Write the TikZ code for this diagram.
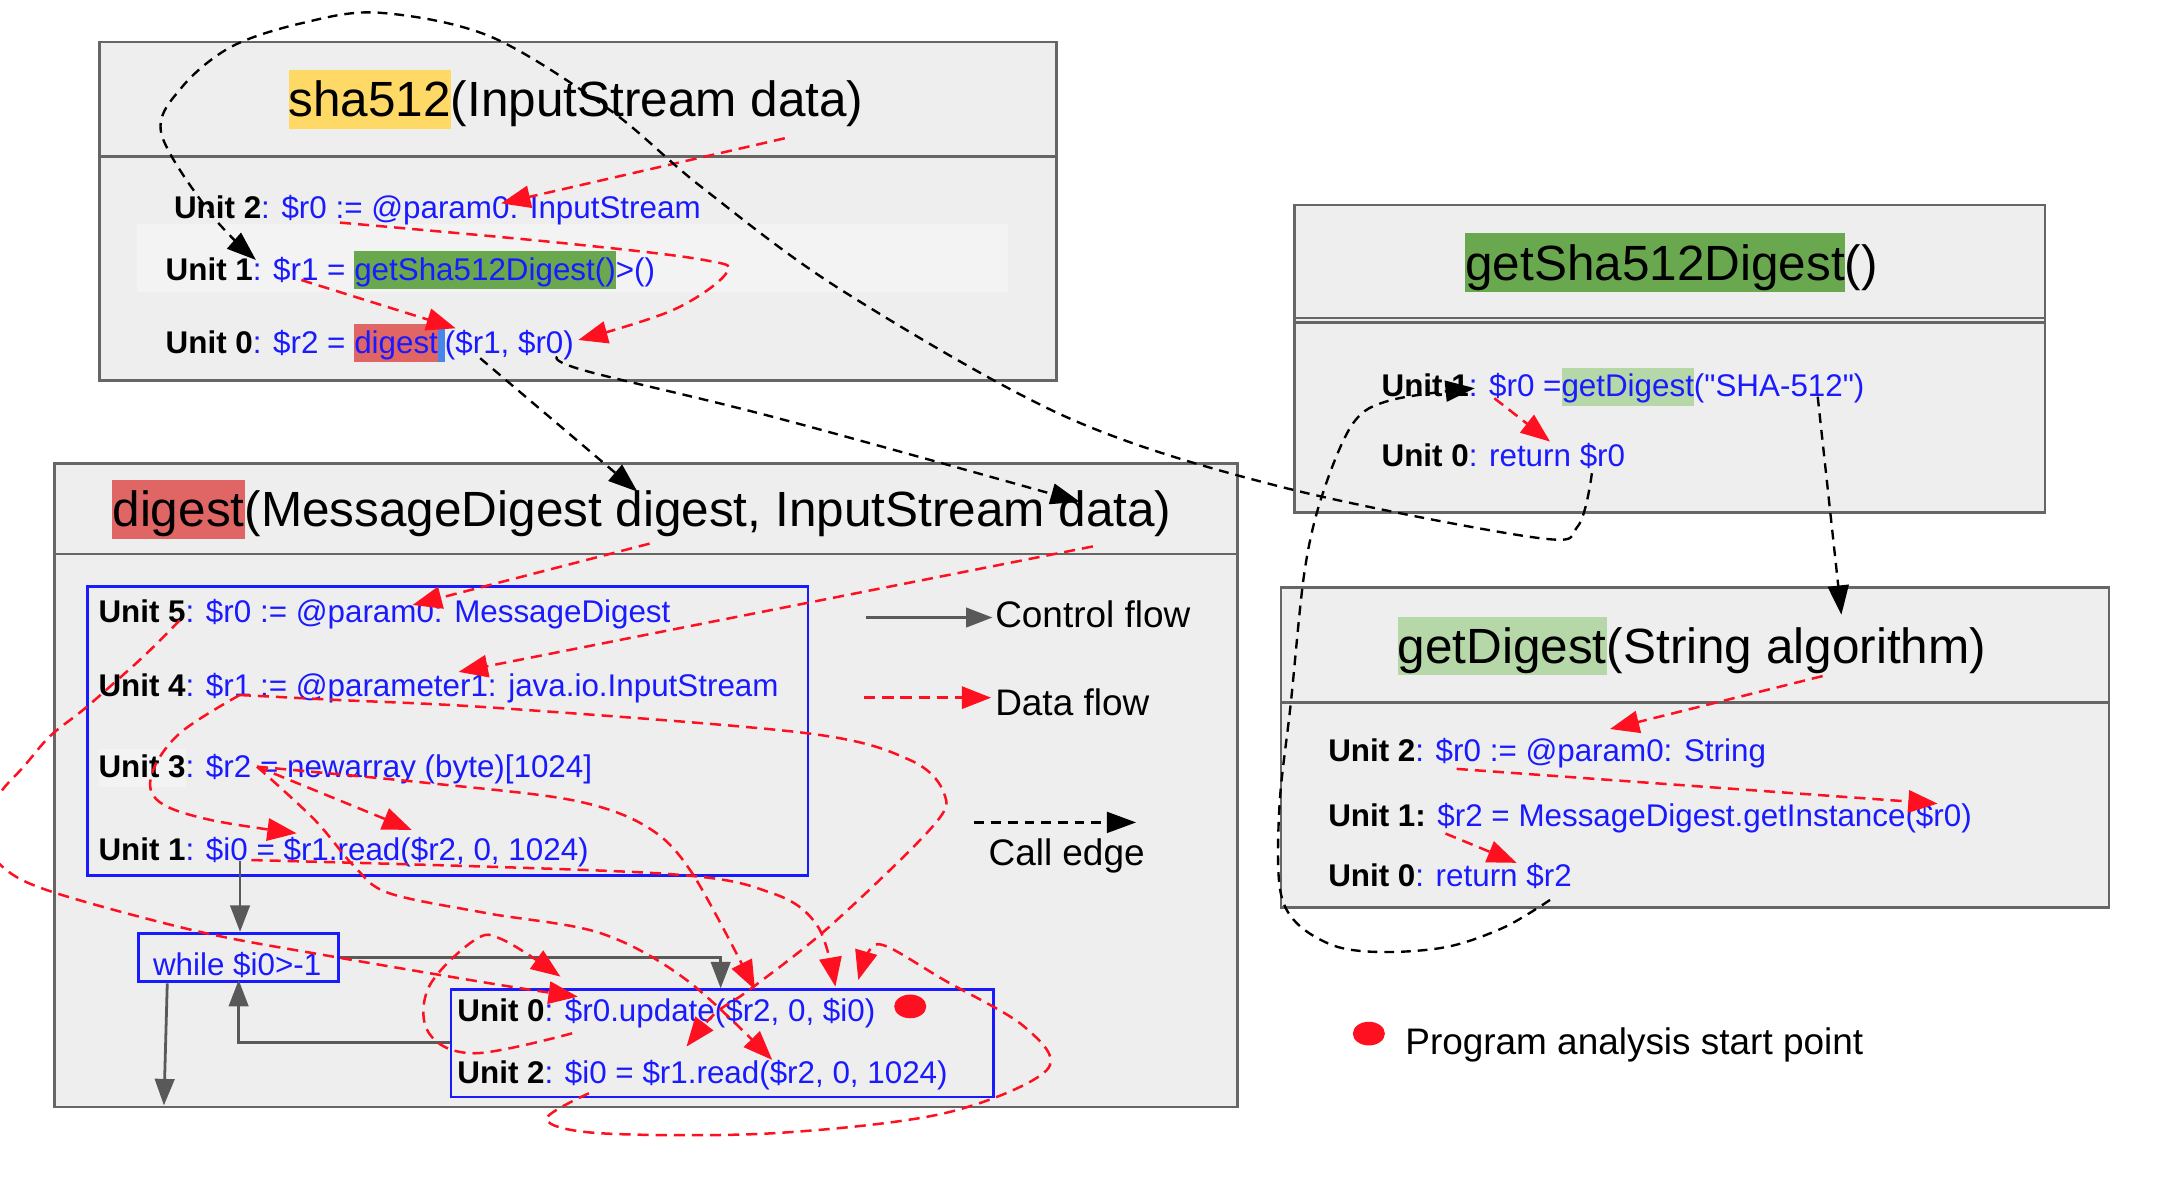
\documentclass[tikz,border=0pt]{standalone}
\usepackage{fontspec}
\setmainfont{Liberation Sans}[Ligatures=TeXOff]
\usetikzlibrary{arrows.meta,shapes.geometric}
\definecolor{boxfill}{HTML}{EEEEEE}
\definecolor{boxline}{HTML}{666666}
\definecolor{codeblue}{HTML}{1A1AFF}
\definecolor{dfred}{HTML}{FF1020}
\definecolor{cfgray}{HTML}{595959}
\definecolor{hlyellow}{HTML}{FFD966}
\definecolor{hlgreen}{HTML}{6AA84F}
\definecolor{hllgreen}{HTML}{B6D7A8}
\definecolor{hlred}{HTML}{E06666}
\definecolor{hlsel}{HTML}{4A86E8}
\definecolor{lightrow}{HTML}{F3F3F3}
\newcommand\codefont{\fontsize{22.5}{27}\selectfont}
\newcommand\titlefont{\fontsize{35.5}{40}\selectfont}
\newcommand\legendfont{\fontsize{26.5}{30}\selectfont}
\newcommand\unitlbl[1]{\textcolor{black}{\bfseries #1}}
\newcommand\hlcode[2]{\begingroup\setlength{\fboxsep}{0pt}\colorbox{#1}{\rule[-6.5pt]{0pt}{27.3pt}#2}\endgroup}
\newcommand\hltitle[2]{\begingroup\setlength{\fboxsep}{0pt}\colorbox{#1}{\rule[-8.5pt]{0pt}{42pt}#2}\endgroup}
\begin{document}
\begin{tikzpicture}[x=1pt,y=-1pt,
  box/.style={draw=boxline, fill=boxfill, line width=2pt, inner sep=0pt, anchor=north west},
  bluebox/.style={draw=codeblue, line width=2pt, inner sep=0pt, anchor=north west},
  divider/.style={draw=boxline, line width=2pt},
  code/.style={anchor=base west, inner sep=0pt, text=codeblue, font=\codefont},
  titletext/.style={anchor=base west, inner sep=0pt, text=black, font=\titlefont},
  legendtext/.style={anchor=base west, inner sep=0pt, text=black, font=\legendfont},
  dflow/.style={draw=dfred, line width=1.8pt, dash pattern=on 8pt off 5pt, -{Triangle[length=21pt,width=16pt]}},
  calledge/.style={draw=black, line width=1.7pt, dash pattern=on 7pt off 5pt, -{Triangle[length=21pt,width=15pt]}},
  cflow/.style={draw=cfgray, line width=2pt, -{Triangle[length=19pt,width=14pt]}},
  dot/.style={ellipse, fill=dfred, minimum width=23pt, minimum height=17pt, inner sep=0pt}
]
\useasboundingbox (0,0) rectangle (1551,845);

% ---------- boxes ----------
\node[box, minimum width=686.6pt, minimum height=242.8pt] (shaBox) at (70.4,29.2) {};
\draw[divider] (70.4,112) -- (757,112);
\fill[lightrow] (98,160.7) rectangle (723,209.5);

\node[box, minimum width=538.4pt, minimum height=220.6pt] (gsBox) at (927.6,146) {};
\draw[divider, line width=1.6pt] (927.6,228.2) -- (1466,228.2);
\draw[divider, line width=1.6pt] (927.6,231.4) -- (1466,231.4);

\node[box, minimum width=594pt, minimum height=229.5pt] (gdBox) at (918,420.5) {};
\draw[divider] (918,504) -- (1512,504);

\node[box, minimum width=848.4pt, minimum height=461.6pt] (dgBox) at (38.3,331.6) {};
\draw[divider] (38.3,397.5) -- (886.7,397.5);

\node[bluebox, minimum width=517.1pt, minimum height=207.5pt] (blockA) at (61.6,419.7) {};
\node[bluebox, minimum width=143.4pt, minimum height=34.5pt] (whileBox) at (98.6,668.5) {};
\node[bluebox, minimum width=389.4pt, minimum height=77pt] (blockB) at (322.6,709) {};

% ---------- texts ----------
\node[titletext] (shaTitle) at (206.8,83.7) {\hltitle{hlyellow}{sha512}(InputStream data)};
\node[code] (shaU2) at (124.7,156.7) {\unitlbl{Unit 2}: \$r0 := @param0: InputStream};
\node[code] (shaU1) at (118.7,200.9) {\unitlbl{Unit 1}: \$r1 = \hlcode{hlgreen}{getSha512Digest()}>()};
\node[code] (shaU0) at (118.7,253.4) {\unitlbl{Unit 0}: \$r2 = \hlcode{hlred}{digest}\hlcode{hlsel}{\hspace{5pt}}(\$r1, \$r0)};

\node[titletext] (gsTitle) at (1051,200.9) {\hltitle{hlgreen}{getSha512Digest}()};
\node[code] (gsU1) at (991,284.5) {\unitlbl{Unit 1}: \$r0 =\hlcode{hllgreen}{getDigest}("SHA-512")};
\node[code] (gsU0) at (991,334.8) {\unitlbl{Unit 0}: return \$r0};

\node[titletext] (gdTitle) at (1002.5,475.8) {\hltitle{hllgreen}{getDigest}(String algorithm)};
\node[code] (gdU2) at (952.7,546.6) {\unitlbl{Unit 2}: \$r0 := @param0: String};
\node[code] (gdU1) at (952.7,593) {\unitlbl{Unit 1:} \$r2 = MessageDigest.getInstance(\$r0)};
\node[code] (gdU0) at (952.7,636) {\unitlbl{Unit 0}: return \$r2};

\node[titletext] (dgTitle) at (80.5,378) {\hltitle{hlred}{digest}(MessageDigest digest, InputStream data)};
\node[code] (dgU5) at (70.5,446.5) {\unitlbl{Unit 5}: \$r0 := @param0: MessageDigest};
\node[code] (dgU4) at (70.5,500) {\unitlbl{Unit 4}: \$r1 := @parameter1: java.io.InputStream};
\node[code] (dgU3) at (70.5,558) {\hlcode{lightrow}{\unitlbl{Unit 3}}: \$r2 = newarray (byte)[1024]};
\node[code] (dgU1) at (70.5,617) {\unitlbl{Unit 1}: \$i0 = \$r1.read(\$r2, 0, 1024)};
\node[code] (whileTxt) at (109.6,700) {while \$i0>-1};
\node[code] (dgU0) at (328,733) {\unitlbl{Unit 0}: \$r0.update(\$r2, 0, \$i0)};
\node[code] (dgU2) at (328,777) {\unitlbl{Unit 2}: \$i0 = \$r1.read(\$r2, 0, 1024)};
\node[dot] (startDot) at (653,722) {};

% ---------- legend ----------
\coordinate (lgCfA) at (621,443);   \coordinate (lgCfB) at (712,443);
\coordinate (lgDfA) at (620,500.5); \coordinate (lgDfB) at (711,500.5);
\coordinate (lgCeA) at (699,590);   \coordinate (lgCeB) at (815,590);
\draw[cflow] (lgCfA) -- (lgCfB);
\draw[dflow] (lgDfA) -- (lgDfB);
\draw[calledge] (lgCeA) -- (lgCeB);
\node[legendtext] (lgCf) at (713.8,450) {Control flow};
\node[legendtext] (lgDf) at (713.8,513.6) {Data flow};
\node[legendtext] (lgCe) at (709,620.6) {Call edge};
\node[dot] (lgDot) at (982,741.5) {};
\node[legendtext] (lgStart) at (1008,756.8) {Program analysis start point};

% ---------- control flow ----------
\coordinate (cfU1) at (172.2,618);
\coordinate (cfWTop) at (172.2,668.5);
\coordinate (cfB0) at (517,709);
\coordinate (cfBack) at (322.6,747.6);
\coordinate (cfWBot) at (171.2,703);
\coordinate (cfExitA) at (120,705.4);
\coordinate (cfExitB) at (117.6,793);
\draw[cflow] (cfU1) -- (cfWTop);
\draw[cflow] (whileBox.east) -| (cfB0);
\draw[cflow] (cfBack) -| (cfWBot);
\draw[cflow] (cfExitA) -- (cfExitB);

% ---------- data flow: sha512 ----------
\coordinate (dA1) at (563,99.2);    \coordinate (dA2) at (359.5,145.9);
\draw[dflow] (dA1) -- (dA2);
\coordinate (dB1) at (243.9,159.7); \coordinate (dB2) at (414.9,243.9);
\draw[dflow] plot[smooth, tension=0.6] coordinates {(dB1) (400,174) (505,186.5) (521,196) (482.8,222.4) (dB2)};
\coordinate (dC1) at (216.2,200.9); \coordinate (dC2) at (326.9,235.5);
\draw[dflow] (dC1) -- (dC2);

% ---------- data flow: getSha512Digest / getDigest ----------
\coordinate (dD1) at (1072,285.7);  \coordinate (dD2) at (1112,316.8);
\draw[dflow] (dD1) -- (dD2);
\coordinate (dE1) at (1307.5,485);  \coordinate (dE2) at (1155,523);
\draw[dflow] (dE1) -- (dE2);
\coordinate (dF1) at (1045,551.6);  \coordinate (dF2) at (1390,576.5);
\draw[dflow] (dF1) -- (dF2);
\coordinate (dG1) at (1037,598);    \coordinate (dG2) at (1088,619);
\draw[dflow] (dG1) -- (dG2);

% ---------- data flow: digest ----------
\coordinate (dH1) at (466,390);     \coordinate (dH2) at (296,434);
\draw[dflow] (dH1) -- (dH2);
\coordinate (dI1) at (784,392);     \coordinate (dI2) at (329,482);
\draw[dflow] (dI1) -- (dI2);
% Unit 5 $r0 -> update
\coordinate (r0u5) at (129,445);    \coordinate (r0upd) at (414.5,715);
\draw[dflow] plot[smooth, tension=0.55] coordinates {(r0u5) (105,469) (84,488) (60,509) (36,528) (17,550) (0,569) (-14,596) (2,622) (38,640) (143,668.4) (239,686.3) (358.7,706.6) (r0upd)};
% Unit 4 $r1 -> Unit 1 read
\coordinate (r1u4) at (172,498.6);  \coordinate (r1u1) at (212.8,597.8);
\draw[dflow] plot[smooth, tension=0.6] coordinates {(r1u4) (129,526) (109,555) (114,575) (150,588) (r1u1)};
% Unit 4 $r1 -> Unit 2 read
\coordinate (r1u2) at (492.5,750.8);
\draw[dflow] plot[smooth, tension=0.55] coordinates {(r1u4) (239,502) (358.7,508) (578.8,526) (652.7,545.2) (677.2,569) (669,593) (595,664.8) (537.7,710) (513,727) (r1u2)};
% Unit 3 $r2 -> Unit 1 read
\coordinate (r2u3) at (184.4,550);  \coordinate (r2u1) at (295.4,595.4);
\draw[dflow] (r2u3) -- (r2u1);
% Unit 3 $r2 -> update
\coordinate (r2upd) at (541.6,710);
\draw[dflow] plot[smooth, tension=0.55] coordinates {(r2u3) (307.8,561.8) (410.4,574) (463.8,593) (496.6,626.5) (r2upd)};
% Unit 3 $r2 -> Unit 2 read
\coordinate (r2u2) at (554,760.4);
\draw[dflow] plot[smooth, tension=0.55] coordinates {(r2u3) (225.6,588) (254.3,621.7) (279,640.7) (348.6,655) (431,669.5) (492.5,703) (r2u2)};
% Unit 1 $i0 -> update
\coordinate (i0u1) at (180.4,617);  \coordinate (i0upd) at (599.3,707.8);
\draw[dflow] plot[smooth, tension=0.55] coordinates {(i0u1) (472,626.5) (554,640.8) (586.8,664.8) (i0upd)};
% Unit 2 $i0 loop -> update
\coordinate (i0u2) at (422.5,784.3); \coordinate (i0upd2) at (615.7,703);
\draw[dflow] plot[smooth, tension=0.55] coordinates {(i0u2) (392,803) (431,813) (554,813) (677.2,798.7) (751,767.6) (734.8,736.5) (677.2,703) (636.3,679) (623.9,681.5) (i0upd2)};
% Unit 0 $r0 loop -> update
\coordinate (r0u0) at (410.4,741.3); \coordinate (r0upd2) at (402,700.6);
\draw[dflow] plot[smooth, tension=0.6] coordinates {(r0u0) (340.6,755.6) (307.8,741.3) (307.8,707.8) (340.6,674.3) (361,674.3) (r0upd2)};

% ---------- call edges ----------
\coordinate (c1a) at (344.5,257);   \coordinate (c1b) at (457.3,352.7);
\draw[calledge] (c1a) -- (c1b);
\coordinate (c2a) at (399.8,255.9); \coordinate (c2b) at (774.7,360);
\draw[calledge] plot[smooth, tension=0.6] coordinates {(c2a) (420,266) (558,300) (c2b)};
\coordinate (c3a) at (1142,339.5);  \coordinate (c3b) at (183.6,186.5);
\draw[calledge] plot[smooth, tension=0.55] coordinates {(c3a) (1131.7,377.8) (1101,385.6) (918,349) (764.4,298.9) (603.5,208) (502.9,133.9) (437.5,78.9) (352,26.3) (271.6,9.1) (216.2,16.7) (166,33.5) (130.8,62.2) (115.7,95.6) (150.9,153) (c3b)};
\coordinate (c4a) at (1112,645.6);  \coordinate (c4b) at (1058,278.5);
\draw[calledge] plot[smooth, tension=0.55] coordinates {(c4a) (1079.6,665) (1039.5,679) (995,683) (958.6,679) (930,662) (918,636) (918,576) (926,504.5) (936,409) (949,353.8) (970.8,303.5) (998,287) (c4b)};
\coordinate (c5a) at (1304,284.6);  \coordinate (c5b) at (1321,441);
\draw[calledge] (c5a) -- (c5b);
\end{tikzpicture}
\end{document}
